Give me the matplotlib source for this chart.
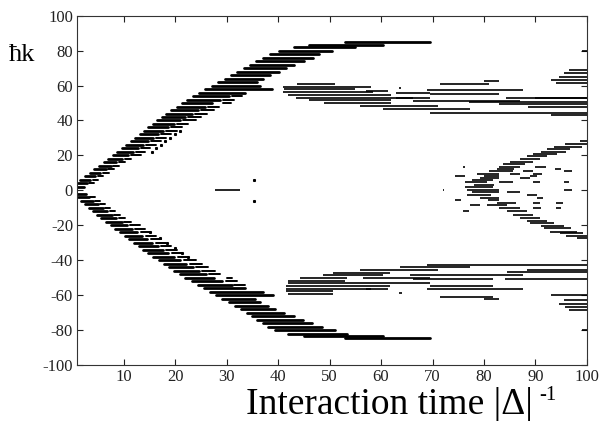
import matplotlib
matplotlib.use("Agg")
import matplotlib.pyplot as plt

plt.rcParams['font.family'] = ['Liberation Serif', 'DejaVu Serif']
plt.rcParams['axes.unicode_minus'] = False

# momentum (units of hbar k) and the time span of each populated level

# upper arm, main dashes
up_y = [2, 4, 6, 8, 10, 12, 14, 16, 18, 20, 22, 24, 26, 28, 30, 32, 34, 36, 38, 40,
        42, 44, 46, 48, 50, 52, 54, 56, 58, 60, 62, 64, 66, 68, 70, 72, 74, 76, 78, 80,
        82, 83.5, 85]
up_x0 = [1.0, 1.2, 1.6, 2.5, 3.4, 4.3, 5.2, 6.1, 7.0, 8.0, 8.8, 9.7, 10.5, 11.4, 12.2,
         13.1, 14.0, 14.8, 15.7, 16.5, 17.4, 18.3, 19.3, 20.3, 21.3, 22.3, 23.5, 24.7,
         25.9, 27.2, 28.4, 29.6, 30.8, 32.0, 33.3, 34.5, 35.7, 37.0, 38.5, 40.2, 43.0,
         46.0, 53.0]
up_x1 = [2.4, 2.9, 3.5, 4.5, 5.5, 6.5, 7.5, 8.6, 9.7, 10.9, 11.8, 12.8, 13.7, 14.7, 15.7,
         16.7, 17.7, 18.7, 19.8, 20.9, 22.0, 23.2, 24.4, 25.8, 27.2, 28.8, 30.5, 33.5,
         38.9, 36.5, 36.0, 37.0, 38.5, 40.2, 41.5, 43.0, 45.0, 46.8, 48.0, 50.5, 55.0,
         60.4, 69.5]

# lower arm, main dashes
lo_y = [-2, -4, -6, -8, -10, -12, -14, -16, -18, -20, -22, -24, -26, -28, -30, -32, -34,
        -36, -38, -40, -42, -44, -46, -48, -50, -52, -54, -56, -58, -60, -62, -64, -66,
        -68, -70, -72, -74, -76, -78, -80, -82, -83.3, -84.8]
lo_x0 = [1.0, 1.2, 1.7, 2.5, 3.3, 4.1, 4.9, 5.7, 6.6, 7.5, 8.4, 9.3, 10.2, 11.1, 12.0,
         12.9, 13.8, 14.8, 15.8, 16.8, 17.8, 18.8, 19.8, 20.9, 22.0, 23.2, 24.4, 25.6,
         26.8, 28.0, 29.2, 30.4, 31.6, 32.8, 34.0, 35.0, 36.0, 37.0, 38.0, 39.5, 42.0,
         45.0, 53.0]
lo_x1 = [2.6, 3.2, 4.0, 5.0, 5.9, 6.8, 7.7, 8.6, 9.6, 10.6, 11.6, 12.6, 13.6, 14.6, 15.6,
         16.6, 17.6, 18.7, 19.8, 21.0, 22.2, 23.4, 24.7, 26.0, 27.5, 29.2, 31.0, 33.5,
         37.0, 39.0, 35.5, 36.5, 38.0, 39.5, 41.2, 43.0, 44.8, 46.5, 48.5, 51.0, 53.4,
         60.4, 69.5]

# second, weaker row of dashes beside each arm
up2_y = [4, 6, 8, 10, 12, 14, 16, 18, 20, 22, 24, 26, 28, 30, 32, 34, 36, 38, 40, 42,
         44, 46, 48, 50, 52, 54]
up2_x0 = [3.3, 4.0, 5.0, 6.0, 7.0, 8.0, 9.1, 10.2, 11.5, 12.4, 13.4, 14.3, 15.3, 16.3,
          17.3, 18.3, 19.3, 20.4, 21.6, 22.6, 23.8, 25.0, 26.4, 29.3, 29.3, 31.0]
up2_x1 = [4.2, 5.0, 6.0, 7.2, 8.2, 9.2, 10.3, 11.5, 13.4, 14.2, 15.2, 16.2, 17.3, 18.3,
          19.3, 20.3, 21.3, 22.5, 24.0, 25.0, 26.2, 27.5, 28.5, 30.8, 31.5, 33.0]
lo2_y = [-4, -6, -8, -10, -12, -14, -16, -18, -20, -22, -24, -26, -28, -30, -32, -34,
         -36, -38, -40, -42, -44, -46, -48, -50, -52, -54]
lo2_x0 = [3.5, 4.5, 5.5, 6.4, 7.3, 8.2, 9.1, 10.1, 11.3, 12.3, 13.3, 14.3, 15.3, 16.3,
          17.3, 18.3, 19.4, 20.5, 21.7, 22.8, 24.0, 25.2, 26.5, 30.0, 29.8, 31.5]
lo2_x1 = [4.4, 5.4, 6.4, 7.4, 8.4, 9.3, 10.3, 11.4, 13.2, 14.2, 15.2, 16.2, 17.2, 18.3,
          19.3, 20.3, 21.4, 22.6, 24.0, 25.2, 26.4, 27.7, 28.8, 31.0, 32.0, 33.5]

# sparse dots outside the arms
dot_y = [22, 24, 26, 28, 30, 32, 34, 6, -6, -24, -27, -30, -33, -36, -38]
dot_x = [15.5, 16.3, 17.2, 18.1, 19.0, 20.0, 21.0, 35.4, 35.4, 15.2, 17.1, 18.5, 20.0,
         21.4, 22.6]

# resting level near zero
zero_y = [0.2]
zero_x0 = [27.8]
zero_x1 = [32.6]

# bands around +-50
band_y = [61.0, 59.4, 57.8, 57.0, 56.2, 54.6, 53.0, 51.5, 50.0, 48.4, 46.5, 44.2,
          62.6, 61.0, 58.7, 57.4, 55.6, 55.4, 52.7, 51.3, 50.8, 52.7, 49.2, 47.5, 53.1,
          80.0, 68.8, 67.0, 65.0, 63.2, 61.6, 43.0,
          -42.7, -43.8, -45.6, -45.6, -47.3, -47.0, -48.6, -48.6, -50.2, -50.2, -51.0,
          -51.0, -52.0, -53.2, -54.6, -54.6, -56.2, -56.2, -56.5, -57.5, -59.2, -59.0,
          -60.8, -62.4, -60.0, -62.6, -64.8, -66.6, -68.4, -80.0]
band_x0 = [43.7, 41.0, 41.2, 57.0, 41.0, 42.0, 43.5, 46.0, 49.0, 56.0, 60.4, 69.5,
           80.0, 71.5, 63.4, 69.0, 63.0, 69.5, 63.0, 66.2, 77.0, 90.0, 83.0, 88.5, 84.2,
           99.0, 96.5, 95.5, 94.6, 93.0, 94.0, 93.0,
           69.0, 63.7, 56.0, 88.4, 50.7, 84.5, 48.8, 65.7, 44.3, 56.5, 66.2,
           84.0, 42.0, 42.0, 41.5, 69.5, 41.5, 57.0, 69.0, 41.5, 42.0, 63.5,
           71.5, 80.0, 93.0, 95.5, 94.6, 95.8, 96.5, 99.0]
band_x1 = [51.0, 58.0, 55.0, 61.3, 58.4, 62.0, 66.2, 62.0, 62.0, 71.0, 77.3, 100.0,
           83.0, 81.0, 63.9, 87.6, 69.5, 83.0, 69.5, 87.0, 100.0, 100.0, 100.0, 100.0, 100.0,
           100.0, 100.0, 100.0, 100.0, 100.0, 100.0, 100.0,
           100.0, 77.3, 71.0, 100.0, 61.8, 100.0, 60.4, 87.6, 53.4, 69.5, 81.8,
           100.0, 53.0, 69.5, 61.8, 81.8, 58.0, 61.3, 87.6, 50.7, 50.7, 64.0,
           81.8, 83.0, 100.0, 100.0, 100.0, 100.0, 100.0, 100.0]

# crossing pattern at long times
cross_y = [28.0, 26.6, 25.1, 23.7, 22.2, 20.9, 19.4, 18.0, 16.5, 15.2, 13.6, 13.6, 13.6,
           12.3, 12.3, 10.8, 10.8, 10.8, 9.5, 9.5, 9.5, 8.3, 8.3, 8.3, 7.2, 7.2, 6.0,
           4.5, 4.5, 4.5, 4.5, 3.2, 2.0, 0.3, 0.3, 0.3, -1.2, -1.2, -2.6, -2.6, -4.1,
           -4.1, -5.4, -5.4, -7.0, -7.0, -7.0, -8.3, -8.3, -10.0, -10.0, -10.0, -11.6,
           -11.6, -14.0, -15.8, -17.3, -18.7, -20.3, -21.5, -23.6, -24.4, -26.0, -27.3]
cross_x0 = [98.6, 95.8, 93.5, 92.3, 91.0, 89.5, 88.4, 87.0, 85.0, 83.7, 83.0, 76.0, 90.0,
            82.5, 93.8, 81.0, 87.5, 95.6, 78.7, 85.0, 89.5, 74.4, 80.0, 89.0, 79.3, 87.0,
            77.7, 76.3, 83.0, 89.5, 95.5, 78.0, 76.3, 76.7, 72.0, 95.5, 77.7, 84.5, 76.7,
            88.4, 79.3, 90.3, 80.7, 74.4, 82.5, 89.5, 94.0, 80.6, 77.3, 83.0, 89.5, 94.0,
            76.0, 84.5, 85.7, 87.0, 88.4, 89.0, 91.0, 91.7, 92.9, 94.8, 96.0, 98.0]
cross_x1 = [100.0, 100.0, 99.0, 96.7, 96.0, 94.2, 92.3, 90.9, 89.5, 88.0, 87.0, 76.4, 92.0,
            85.8, 95.0, 85.7, 89.5, 97.0, 83.0, 87.0, 91.2, 76.3, 83.0, 90.3, 83.0, 89.0,
            81.8, 80.6, 85.7, 90.8, 96.5, 82.0, 81.8, 83.0, 72.3, 97.0, 83.0, 87.0, 81.3,
            90.3, 83.0, 91.5, 83.0, 75.6, 86.3, 90.8, 95.3, 84.5, 79.3, 87.0, 91.0, 95.0,
            77.0, 88.4, 89.5, 90.9, 92.3, 93.5, 95.6, 96.8, 98.0, 99.3, 100.0, 100.0]

fig = plt.figure(figsize=(6.0, 4.21), dpi=100)
ax = fig.add_axes([0.1288, 0.133, 0.8495, 0.8297])

ax.hlines(up_y, up_x0, up_x1, color='black', lw=2.0, capstyle='round')
ax.hlines(lo_y, lo_x0, lo_x1, color='black', lw=2.0, capstyle='round')
ax.hlines(up2_y, up2_x0, up2_x1, color='black', lw=1.4, capstyle='round')
ax.hlines(lo2_y, lo2_x0, lo2_x1, color='black', lw=1.4, capstyle='round')
ax.plot(dot_x, dot_y, 's', color='black', ms=1.2)
ax.hlines(zero_y, zero_x0, zero_x1, color='black', lw=1.2)
ax.hlines(band_y, band_x0, band_x1, color='black', lw=1.2)
ax.hlines(cross_y, cross_x0, cross_x1, color='black', lw=1.2)

ax.set_xlim(1, 100)
ax.set_ylim(-100, 100)
ax.set_xticks(range(10, 101, 10))
ax.set_yticks(range(-100, 101, 20))
ax.tick_params(direction='in', length=4, width=0.8, labelsize=12,
               top=True, right=True, colors='#222222', pad=3)
for s in ax.spines.values():
    s.set_linewidth(0.8)
    s.set_color('#333333')

W, H = 600.0, 421.0
fig.text(22 / W, 1 - 55 / H, 'ħk', fontsize=19, ha='center', va='center')

# axis title, exponent set as a separate raised text
xlab = fig.text(246 / W, 1 - 414 / H, 'Interaction time |Δ|', fontsize=27,
                ha='left', va='baseline')
fig.canvas.draw()
bb = xlab.get_window_extent(fig.canvas.get_renderer())
fig.text((bb.x1 + 6) / W, 1 - 400 / H, '-1', fontsize=15,
         ha='left', va='baseline')

fig.savefig('out.png', dpi=100)
